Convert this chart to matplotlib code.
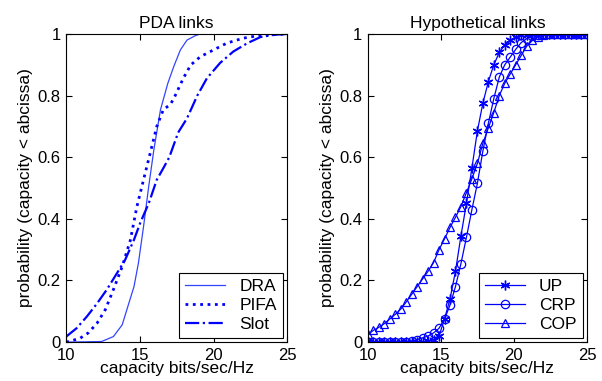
import numpy as np
import matplotlib
matplotlib.use("Agg")
import matplotlib.pyplot as plt

plt.rcParams['font.family'] = ['Liberation Sans', 'DejaVu Sans']

# PDA links (left panel)
dra_x = [10, 12.4, 13.2, 13.8, 14.25, 14.6, 14.9, 15.25, 15.6, 15.95, 16.4, 16.9, 17.3, 17.75, 18.2, 18.75, 19.1, 25]
dra_y = [0, 0.002, 0.018, 0.056, 0.126, 0.18, 0.256, 0.375, 0.505, 0.624, 0.754, 0.84, 0.894, 0.948, 0.98, 0.994, 1.0, 1.0]

pifa_x = [10, 10.4, 10.95, 11.5, 12.1, 12.65, 13.2, 13.8, 14.35, 14.8, 15.25, 15.7, 16.15, 16.6, 17.05, 17.3,
          17.95, 18.45, 19.1, 20.0, 20.9, 22.0, 23.0, 23.9, 25]
pifa_y = [0, 0.005, 0.013, 0.03, 0.062, 0.105, 0.17, 0.245, 0.33, 0.44, 0.527, 0.613, 0.70, 0.755, 0.77, 0.79,
          0.856, 0.899, 0.926, 0.948, 0.97, 0.986, 0.994, 0.997, 1.0]

slot_x = [10, 10.7, 11.4, 12.1, 12.75, 13.45, 14.0, 14.6, 15.05, 15.6, 16.15, 16.6, 17.0, 17.6, 18.2, 18.9,
          19.55, 20.45, 21.35, 22.3, 23.2, 24.1, 25]
slot_y = [0.018, 0.045, 0.083, 0.126, 0.17, 0.224, 0.267, 0.332, 0.39, 0.45, 0.527, 0.565, 0.6, 0.68, 0.726, 0.80,
          0.856, 0.906, 0.943, 0.97, 0.99, 0.997, 1.0]

# Hypothetical links (right panel)
hyp_x = np.linspace(10, 25, 41)
up = [0, 0, 0, 0, 0, 0, 0, 0, 0.001, 0.001, 0.002, 0.003, 0.008, 0.02, 0.075, 0.14, 0.23, 0.345,
      0.45, 0.565, 0.685, 0.775, 0.845, 0.9, 0.94, 0.965, 0.98, 0.99, 0.996, 0.998, 1.0, 1.0,
      1.0, 1.0, 1.0, 1.0, 1.0, 1.0, 1.0, 1.0, 1.0]
crp = [0, 0, 0, 0, 0, 0.001, 0.001, 0.002, 0.004, 0.008, 0.014, 0.02, 0.03, 0.045, 0.075, 0.12, 0.18, 0.255,
       0.34, 0.43, 0.515, 0.62, 0.71, 0.79, 0.86, 0.9, 0.925, 0.95, 0.972, 0.985, 0.993, 0.998,
       1.0, 1.0, 1.0, 1.0, 1.0, 1.0, 1.0, 1.0, 1.0]
cop = [0.025, 0.038, 0.048, 0.06, 0.075, 0.09, 0.107, 0.13, 0.155, 0.18, 0.205, 0.23, 0.258, 0.3, 0.335, 0.372,
       0.405, 0.44, 0.485, 0.53, 0.58, 0.645, 0.695, 0.745, 0.8, 0.84, 0.87, 0.9, 0.93, 0.96, 0.98, 0.99,
       0.997, 1.0, 1.0, 1.0, 1.0, 1.0, 1.0, 1.0, 1.0]

yticks = [0, 0.2, 0.4, 0.6, 0.8, 1]
ylabels = ['0', '0.2', '0.4', '0.6', '0.8', '1']
xticks = [10, 15, 20, 25]

fig = plt.figure(figsize=(6.02, 3.81), dpi=100)
ax1 = fig.add_axes([0.110, 0.102, 0.367, 0.809])
ax2 = fig.add_axes([0.611, 0.102, 0.364, 0.809])

blue = '#0000ff'
ax1.plot(dra_x, dra_y, '-', color='#3344ff', lw=0.9, label='DRA')
ax1.plot(pifa_x, pifa_y, ':', color=blue, lw=2.0, label='PIFA')
ax1.plot(slot_x, slot_y, '-.', color=blue, lw=1.6, label='Slot')
ax1.set_title('PDA links', fontsize=12.5, pad=4)

ax2.plot(hyp_x, up, '-', marker=(6, 2, 0), color=blue, lw=0.9, ms=7, mew=1.0, label='UP')
ax2.plot(hyp_x, crp, '-o', color=blue, lw=0.9, ms=6, mfc='none', mew=0.9, label='CRP')
ax2.plot(hyp_x, cop, '-^', color=blue, lw=0.9, ms=5.5, mfc='none', mew=0.9, label='COP')
ax2.set_title('Hypothetical links', fontsize=12.5, pad=4)

for ax in (ax1, ax2):
    ax.set_xlim(10, 25)
    ax.set_ylim(0, 1)
    ax.set_xticks(xticks)
    ax.set_yticks(yticks)
    ax.set_yticklabels(ylabels)
    ax.tick_params(direction='in', top=True, right=True, labelsize=12, length=4, width=0.8, pad=4)
    for s in ax.spines.values():
        s.set_linewidth(0.8)
    ax.set_xlabel('capacity bits/sec/Hz', fontsize=12.5, labelpad=-1)
    ax.set_ylabel('probability (capacity < abcissa)', fontsize=12.5, labelpad=3)
    leg = ax.legend(loc='lower right', fontsize=12.5, fancybox=False, edgecolor='black',
                    framealpha=1, borderaxespad=0.25, handlelength=2.3, labelspacing=0.2,
                    handletextpad=0.8, borderpad=0.35)
    leg.get_frame().set_linewidth(0.8)

plt.savefig('out.png', dpi=100)
